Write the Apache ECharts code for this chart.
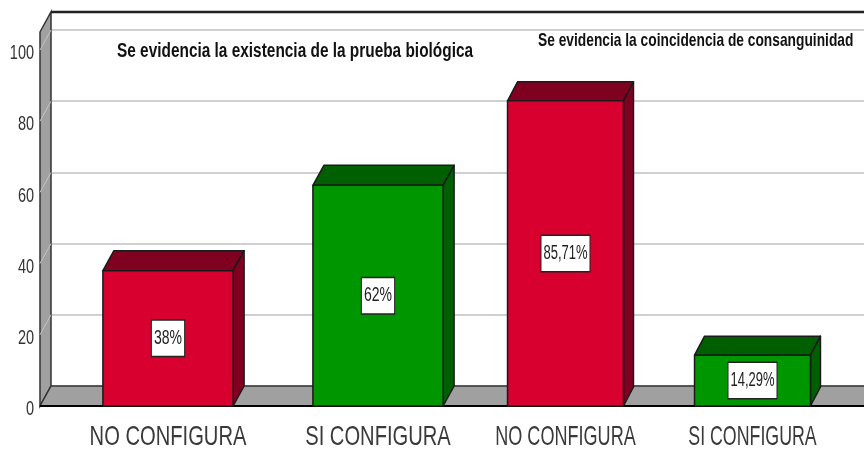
<!DOCTYPE html>
<html>
<head>
<meta charset="utf-8">
<style>
html, body { margin: 0; padding: 0; background: #fff; }
#chart { width: 864px; height: 450px; }
</style>
<script src="https://cdn.jsdelivr.net/npm/echarts@6/dist/echarts.min.js"></script>
</head>
<body>
<div id="chart"></div>
<script>
const leftCategories = ['NO CONFIGURA', 'SI CONFIGURA']
const leftValues = [38, 62]
const leftLabels = ['38%', '62%']
const rightCategories = ['NO CONFIGURA', 'SI CONFIGURA']
const rightValues = [85.71, 14.29]
const rightLabels = ['85,71%', '14,29%']
const yTicks = [0, 20, 40, 60, 80, 100]
const leftTitle = 'Se evidencia la existencia de la prueba biológica'
const rightTitle = 'Se evidencia la coincidencia de consanguinidad'

const FONT = '"Liberation Sans", Arial, sans-serif'
const RED = ['#d7002e', '#800020']
const GREEN = ['#009600', '#005f00']
const BAR_COLORS = [RED, GREEN]
const EDGE = '#1a1a1a'

const chart = echarts.init(document.getElementById('chart'), null, { renderer: 'canvas' })

// no narrow font installed, so squeeze the text horizontally
function squeezedText(text, x, y, scaleX, font, fill, align, extra) {
  return {
    type: 'text',
    x, y, scaleX,
    style: { x: 0, y: 0, text, font, fill, align: align || 'center', verticalAlign: 'middle', ...extra },
  }
}

// grey side wall and floor, sits on the back grid
function renderWalls(params, api) {
  if (params.dataIndex !== 0) return null
  const r = params.coordSys
  const dx = 11, dy = 20
  const right = r.x + r.width
  const bottom = r.y + r.height
  const roof = r.y - 18
  const wallStyle = { fill: '#a0a0a0', stroke: '#333', lineWidth: 1.5 }
  const children = [
    { type: 'polygon', shape: { points: [[r.x - dx, roof + dy], [r.x, roof], [r.x, bottom], [r.x - dx, bottom + dy]] }, style: wallStyle },
    { type: 'polygon', shape: { points: [[r.x - dx, bottom + dy], [r.x, bottom], [right + 2, bottom], [right + 2, bottom + dy]] }, style: wallStyle },
    { type: 'line', shape: { x1: r.x, y1: roof, x2: right, y2: roof }, style: { stroke: '#222', lineWidth: 2.5 } },
    { type: 'line', shape: { x1: r.x - dx, y1: bottom + dy, x2: right, y2: bottom + dy }, style: { stroke: '#000', lineWidth: 2 } },
  ]
  yTicks.slice(1).forEach(t => {
    const y = api.coord([0, t])[1]
    children.push({ type: 'line', shape: { x1: r.x - dx, y1: y + dy, x2: r.x, y2: y }, style: { stroke: '#c4c4c4', lineWidth: 1 } })
  })
  return { type: 'group', children }
}

function renderTickLabel(params, api) {
  const t = api.value(1)
  const y = api.coord([0, t])[1]
  return squeezedText(String(t), 34, y + 3.5, 0.69, '21px ' + FONT, '#333', 'right')
}

function makeBarRenderer(labels, cats, dx, dy, catScale, labelScale) {
  return function (params, api) {
    const idx = api.value(0)
    const val = api.value(1)
    const top = api.coord([idx, val])
    const base = api.coord([idx, 0])
    const w = api.size([1, 0])[0] * 0.62
    const x0 = top[0] - w / 2
    const x1 = top[0] + w / 2
    const colors = BAR_COLORS[idx]
    const edge = { stroke: EDGE, lineWidth: 1.5, lineJoin: 'round' }
    return {
      type: 'group',
      children: [
        { type: 'polygon', shape: { points: [[x0, top[1]], [x0 + dx, top[1] - dy], [x1 + dx, top[1] - dy], [x1, top[1]]] }, style: { fill: colors[1], ...edge } },
        { type: 'polygon', shape: { points: [[x1, top[1]], [x1 + dx, top[1] - dy], [x1 + dx, base[1] - dy], [x1, base[1]]] }, style: { fill: colors[1], ...edge } },
        { type: 'rect', shape: { x: x0, y: top[1], width: w, height: base[1] - top[1] }, style: { fill: colors[0], ...edge } },
        squeezedText(labels[idx], top[0], (top[1] + base[1]) / 2, labelScale, '20px ' + FONT, '#222', 'center', {
          backgroundColor: '#fff',
          borderColor: '#222',
          borderWidth: 1.5,
          padding: [8, 3, 7, 3],
        }),
        squeezedText(cats[idx], top[0], base[1] + 31, catScale[idx], '28px ' + FONT, '#3a3a3a'),
      ],
    }
  }
}

const hiddenY = { type: 'value', min: 0, max: 100, interval: 20, show: false }
const hiddenX = data => ({ type: 'category', data, show: false })

chart.setOption({
  animation: false,
  backgroundColor: '#fff',
  grid: [
    { left: 51, right: 0, top: 30, height: 356 }, // back wall
    { left: 40, right: 0, top: 50, height: 356 }, // y labels
    { left: 63, width: 420, top: 50, height: 356 }, // left panel
    { left: 472, width: 374, top: 50, height: 356 }, // right panel
  ],
  xAxis: [
    { ...hiddenX(yTicks), gridIndex: 0 },
    { ...hiddenX(yTicks), gridIndex: 1 },
    { ...hiddenX(leftCategories), gridIndex: 2 },
    { ...hiddenX(rightCategories), gridIndex: 3 },
  ],
  yAxis: [
    { ...hiddenY, gridIndex: 0, show: true, axisLine: { show: false }, axisTick: { show: false }, axisLabel: { show: false },
      splitLine: { show: true, lineStyle: { color: '#d0d0d0', width: 2 } } },
    { ...hiddenY, gridIndex: 1 },
    { ...hiddenY, gridIndex: 2 },
    { ...hiddenY, gridIndex: 3 },
  ],
  graphic: [
    { type: 'text', x: 117, y: 51, scaleX: 0.77, z: 10, style: { text: leftTitle, font: 'bold 20px ' + FONT, fill: '#111', verticalAlign: 'middle' } },
    { type: 'text', x: 538, y: 41, scaleX: 0.725, z: 10, style: { text: rightTitle, font: 'bold 19px ' + FONT, fill: '#111', verticalAlign: 'middle' } },
  ],
  series: [
    { type: 'custom', xAxisIndex: 0, yAxisIndex: 0, z: 1, clip: false, renderItem: renderWalls, data: yTicks.map((t, i) => [i, t]) },
    { type: 'custom', xAxisIndex: 1, yAxisIndex: 1, z: 2, clip: false, renderItem: renderTickLabel, data: yTicks.map((t, i) => [i, t]) },
    { type: 'custom', xAxisIndex: 2, yAxisIndex: 2, z: 3, clip: false, renderItem: makeBarRenderer(leftLabels, leftCategories, 11, 20, [0.72, 0.72], 0.7), data: leftValues.map((v, i) => [i, v]) },
    { type: 'custom', xAxisIndex: 3, yAxisIndex: 3, z: 3, clip: false, renderItem: makeBarRenderer(rightLabels, rightCategories, 10, 19, [0.645, 0.635], 0.65), data: rightValues.map((v, i) => [i, v]) },
  ],
})
</script>
</body>
</html>
